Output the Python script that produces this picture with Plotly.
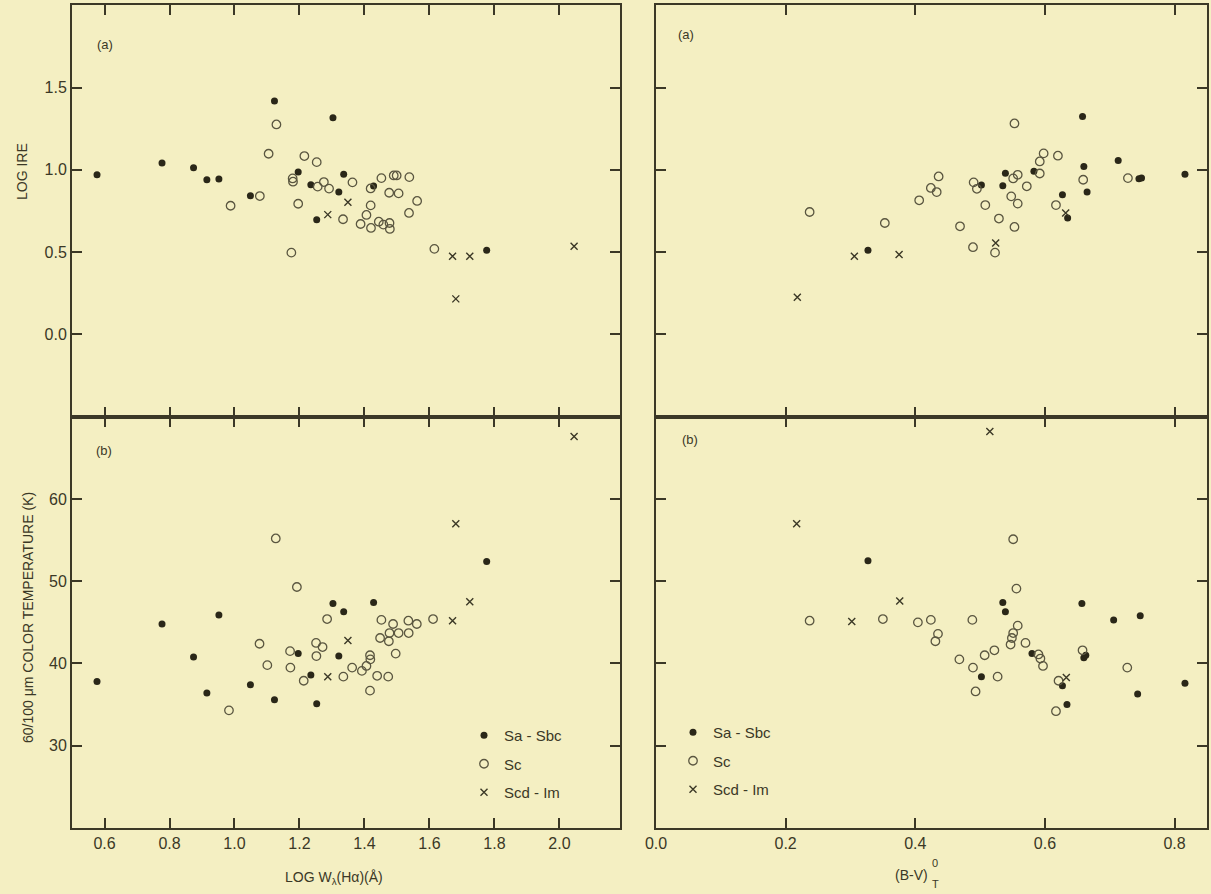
import plotly.graph_objects as go

# ---------------- data ----------------
# Left panels: LOG W_lambda(H alpha)
logw_sa = [0.577, 0.777, 0.874, 0.915, 0.952, 1.049, 1.123, 1.196, 1.235, 1.253, 1.303, 1.321, 1.336, 1.428, 1.776]
logire_sa = [0.970, 1.041, 1.013, 0.940, 0.944, 0.843, 1.419, 0.987, 0.910, 0.697, 1.316, 0.865, 0.974, 0.902, 0.512]
temp_sa_w = [37.8, 44.8, 40.8, 36.4, 45.9, 37.4, 35.6, 41.2, 38.6, 35.1, 47.3, 40.9, 46.3, 47.4, 52.4]

logw_sc_a = [0.988, 1.078, 1.105, 1.129, 1.179, 1.180, 1.175, 1.196, 1.215, 1.253, 1.256, 1.275, 1.291,
             1.334, 1.363, 1.388, 1.406, 1.419, 1.419, 1.420, 1.444, 1.452, 1.458, 1.476, 1.477, 1.478,
             1.490, 1.499, 1.505, 1.537, 1.538, 1.562, 1.615]
logire_sc = [0.782, 0.841, 1.098, 1.276, 0.948, 0.928, 0.497, 0.794, 1.084, 1.047, 0.898, 0.926, 0.886,
             0.700, 0.924, 0.671, 0.726, 0.784, 0.887, 0.647, 0.685, 0.950, 0.667, 0.861, 0.677, 0.641,
             0.966, 0.966, 0.857, 0.738, 0.956, 0.811, 0.520]
logw_sc_b = [0.983, 1.077, 1.101, 1.127, 1.171, 1.172, 1.192, 1.213, 1.251, 1.252, 1.271, 1.285, 1.335,
             1.362, 1.392, 1.406, 1.417, 1.418, 1.417, 1.439, 1.448, 1.452, 1.473, 1.475, 1.477, 1.488,
             1.496, 1.505, 1.535, 1.536, 1.561, 1.611]
temp_sc_w = [34.3, 42.4, 39.8, 55.2, 41.5, 39.5, 49.3, 37.9, 42.5, 40.9, 42.0, 45.4, 38.4,
             39.5, 39.1, 39.7, 41.0, 40.5, 36.7, 38.5, 43.1, 45.3, 38.4, 42.7, 43.7, 44.8,
             41.2, 43.7, 45.2, 43.7, 44.8, 45.4]

logw_scd = [1.287, 1.349, 1.671, 1.724, 1.681, 2.045]
logire_scd = [0.728, 0.803, 0.475, 0.475, 0.216, 0.536]
temp_scd_w = [38.4, 42.8, 45.2, 47.5, 57.0, 67.6]

# Right panels: (B-V)_T^0
bv_sa_a = [0.327, 0.502, 0.539, 0.535, 0.583, 0.627, 0.635, 0.658, 0.660, 0.665, 0.713, 0.745, 0.749, 0.816]
logire_sa_bv = [0.512, 0.908, 0.980, 0.904, 0.991, 0.849, 0.708, 1.324, 1.021, 0.865, 1.057, 0.946, 0.950, 0.974]
bv_sa_b = [0.327, 0.502, 0.535, 0.539, 0.580, 0.627, 0.634, 0.657, 0.660, 0.663, 0.706, 0.743, 0.747, 0.816]
temp_sa_bv = [52.5, 38.4, 47.4, 46.3, 41.2, 37.3, 35.0, 47.3, 40.7, 41.0, 45.3, 36.3, 45.8, 37.6]

bv_sc_a = [0.237, 0.353, 0.406, 0.424, 0.433, 0.436, 0.469, 0.489, 0.490, 0.495, 0.508, 0.523, 0.529,
           0.548, 0.551, 0.553, 0.553, 0.558, 0.558, 0.572, 0.592, 0.592, 0.598, 0.617, 0.620, 0.659, 0.728]
logire_sc_bv = [0.744, 0.677, 0.815, 0.890, 0.865, 0.960, 0.657, 0.530, 0.924, 0.885, 0.786, 0.497, 0.704,
                0.839, 0.948, 1.282, 0.653, 0.795, 0.970, 0.900, 1.051, 0.978, 1.100, 0.786, 1.086, 0.940, 0.950]
bv_sc_b = [0.237, 0.350, 0.404, 0.424, 0.431, 0.435, 0.468, 0.488, 0.489, 0.493, 0.507, 0.522, 0.527,
           0.547, 0.549, 0.551, 0.551, 0.556, 0.558, 0.570, 0.590, 0.593, 0.597, 0.617, 0.621, 0.658, 0.727]
temp_sc_bv = [45.2, 45.4, 45.0, 45.3, 42.7, 43.6, 40.5, 45.3, 39.5, 36.6, 41.0, 41.6, 38.4,
              42.3, 43.1, 43.7, 55.1, 49.1, 44.6, 42.5, 41.1, 40.6, 39.7, 34.2, 37.9, 41.6, 39.5]

bv_scd_a = [0.218, 0.306, 0.375, 0.524, 0.632]
logire_scd_bv = [0.226, 0.475, 0.485, 0.556, 0.738]
bv_scd_b = [0.217, 0.302, 0.376, 0.515, 0.633]
temp_scd_bv = [57.0, 45.1, 47.6, 68.2, 38.3]

series_names = ["Sa - Sbc", "Sc", "Scd - Im"]
x_ticks_w = [0.6, 0.8, 1.0, 1.2, 1.4, 1.6, 1.8, 2.0]
x_ticks_bv = [0.0, 0.2, 0.4, 0.6, 0.8]
y_ticks_ire = [0.0, 0.5, 1.0, 1.5]
y_ticks_temp = [30, 40, 50, 60]

# ---------------- styling ----------------
W, H = 1211, 894
BG = "#F4EFC2"
INK = "#3b3826"
DOT = "#2a2718"
RING = "#5a5640"
FONT = "Liberation Sans, Arial, sans-serif"


def px(x):
    return x / W


def py(y):
    return 1 - y / H


marker_styles = [
    dict(symbol="circle", size=7, color=DOT, line=dict(width=0)),
    dict(symbol="circle-open", size=8.5, color=RING, line=dict(width=1.3, color=RING)),
    dict(symbol="x-thin-open", size=7, color=INK, line=dict(width=1.4, color=INK)),
]

panels = [
    ("x", "y", [(logw_sa, logire_sa), (logw_sc_a, logire_sc), (logw_scd, logire_scd)], None),
    ("x2", "y2", [(bv_sa_a, logire_sa_bv), (bv_sc_a, logire_sc_bv), (bv_scd_a, logire_scd_bv)], None),
    ("x3", "y3", [(logw_sa, temp_sa_w), (logw_sc_b, temp_sc_w), (logw_scd, temp_scd_w)], "legend"),
    ("x4", "y4", [(bv_sa_b, temp_sa_bv), (bv_sc_b, temp_sc_bv), (bv_scd_b, temp_scd_bv)], "legend2"),
]

fig = go.Figure()
for xa, ya, pairs, leg in panels:
    for i, (xs, ys) in enumerate(pairs):
        fig.add_trace(go.Scatter(
            x=xs, y=ys, xaxis=xa, yaxis=ya, mode="markers",
            name=series_names[i], marker=marker_styles[i],
            showlegend=leg is not None, legend=leg if leg else "legend",
            legendgroup=f"{leg}{i}",
        ))

axis_common = dict(
    showline=True, linewidth=2, linecolor=INK, mirror="ticks",
    ticks="inside", ticklen=10, tickwidth=1.5, tickcolor=INK,
    showgrid=False, zeroline=False, automargin=False,
    tickfont=dict(family=FONT, size=16, color=INK),
)

XL = [px(72), px(619.6)]
XR = [px(656), px(1207)]
YT = [py(416.7), py(5.3)]
YB = [py(828), py(416.7)]

legend_common = dict(xanchor="left", yanchor="top", bgcolor="rgba(0,0,0,0)",
                     font=dict(family=FONT, size=15, color=INK),
                     traceorder="grouped", tracegroupgap=6, itemwidth=30)

fig.update_layout(
    width=W, height=H,
    margin=dict(l=0, r=0, t=0, b=0),
    paper_bgcolor=BG, plot_bgcolor=BG,
    font=dict(family=FONT, color=INK),
    xaxis=dict(axis_common, domain=XL, range=[0.5, 2.185], anchor="y",
               tickvals=x_ticks_w, showticklabels=False),
    yaxis=dict(axis_common, domain=YT, range=[-0.5, 2.0], anchor="x",
               tickvals=y_ticks_ire, ticktext=[f"{v:.1f}" for v in y_ticks_ire]),
    xaxis2=dict(axis_common, domain=XR, range=[0.0, 0.85], anchor="y2",
                tickvals=x_ticks_bv, showticklabels=False),
    yaxis2=dict(axis_common, domain=YT, range=[-0.5, 2.0], anchor="x2",
                tickvals=y_ticks_ire, showticklabels=False),
    xaxis3=dict(axis_common, domain=XL, range=[0.5, 2.185], anchor="y3",
                tickvals=x_ticks_w, ticktext=[f"{v:.1f}" for v in x_ticks_w]),
    yaxis3=dict(axis_common, domain=YB, range=[20, 70], anchor="x3",
                tickvals=y_ticks_temp),
    xaxis4=dict(axis_common, domain=XR, range=[0.0, 0.85], anchor="y4",
                tickvals=x_ticks_bv, ticktext=[f"{v:.1f}" for v in x_ticks_bv]),
    yaxis4=dict(axis_common, domain=YB, range=[20, 70], anchor="x4",
                tickvals=y_ticks_temp, showticklabels=False),
    legend=dict(legend_common, x=px(464), y=py(719)),
    legend2=dict(legend_common, x=px(673), y=py(716)),
)

ann_font = dict(family=FONT, size=14, color=INK)
small = dict(family=FONT, size=11, color=INK)
label_font = dict(family=FONT, size=13, color=INK)
annotations = [
    dict(text="LOG IRE", x=px(22), y=py(172), textangle=-90, font=ann_font),
    dict(text="60/100 μm COLOR TEMPERATURE (K)", x=px(28), y=py(618), textangle=-90, font=ann_font),
    dict(text="LOG W<sub>λ</sub>(Hα)(Å)", x=px(334), y=py(878), font=ann_font),
    dict(text="(B-V)", x=px(911), y=py(875), font=ann_font),
    dict(text="0", x=px(935), y=py(863), font=small),
    dict(text="T", x=px(935), y=py(884), font=small),
    dict(text="(a)", x=px(105), y=py(45), font=label_font),
    dict(text="(a)", x=px(686), y=py(34), font=label_font),
    dict(text="(b)", x=px(104), y=py(450), font=label_font),
    dict(text="(b)", x=px(690), y=py(439), font=label_font),
]
for a in annotations:
    a.update(xref="paper", yref="paper", showarrow=False, xanchor="center", yanchor="middle")
fig.update_layout(annotations=annotations)

fig.write_html("out.html", config={"displayModeBar": False},
               post_script="document.body.style.margin='0';document.body.style.overflow='hidden';")
